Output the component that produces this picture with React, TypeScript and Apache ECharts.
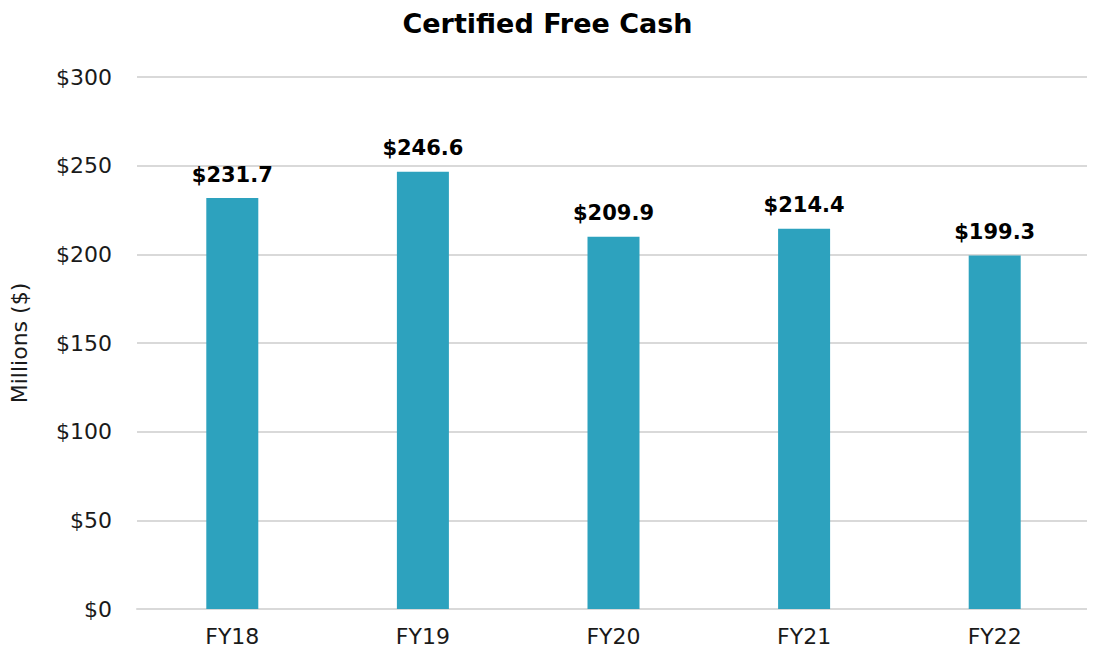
import React, { useEffect, useRef } from "react";
import * as echarts from "echarts";

const categories = ["FY18", "FY19", "FY20", "FY21", "FY22"];
const values = [231.7, 246.6, 209.9, 214.4, 199.3];
const yTicks = { min: 0, max: 300, interval: 50 };

const FONT = "'DejaVu Sans', sans-serif";

export default function App() {
  const ref = useRef<HTMLDivElement>(null);
  useEffect(() => {
    const chart = echarts.init(ref.current!, null, { renderer: "svg" });
    chart.setOption({
      animation: false,
      title: {
        text: "Certified Free Cash",
        left: "center",
        top: 5,
        textStyle: { fontFamily: FONT, fontSize: 27, fontWeight: "bold", color: "#000" },
      },
      grid: { left: 137, right: 5, top: 77, bottom: 54 },
      xAxis: {
        type: "category",
        data: categories,
        axisLine: { lineStyle: { color: "#d9d9d9", width: 2 } },
        axisTick: { show: false },
        axisLabel: { fontFamily: FONT, fontSize: 22, color: "#1a1a1a", margin: 16 },
      },
      yAxis: {
        type: "value",
        min: yTicks.min,
        max: yTicks.max,
        interval: yTicks.interval,
        name: "Millions ($)",
        nameLocation: "middle",
        nameGap: 107,
        nameTextStyle: { fontFamily: FONT, fontSize: 22, color: "#1a1a1a" },
        axisLine: { show: false },
        axisTick: { show: false },
        splitLine: { lineStyle: { color: "#d9d9d9", width: 2 } },
        axisLabel: {
          fontFamily: FONT,
          fontSize: 22,
          color: "#1a1a1a",
          margin: 25,
          formatter: (v: number) => "$" + v,
        },
      },
      series: [
        {
          type: "bar",
          data: values,
          barWidth: 52,
          itemStyle: { color: "#2da2be" },
          label: {
            show: true,
            position: "top",
            distance: 13,
            fontFamily: FONT,
            fontSize: 21,
            fontWeight: "bold",
            color: "#000",
            formatter: (p: any) => "$" + p.value.toFixed(1),
          },
        },
      ],
    });
    return () => chart.dispose();
  }, []);
  return <div ref={ref} style={{ width: 1095, height: 663, margin: -8 }} />;
}
